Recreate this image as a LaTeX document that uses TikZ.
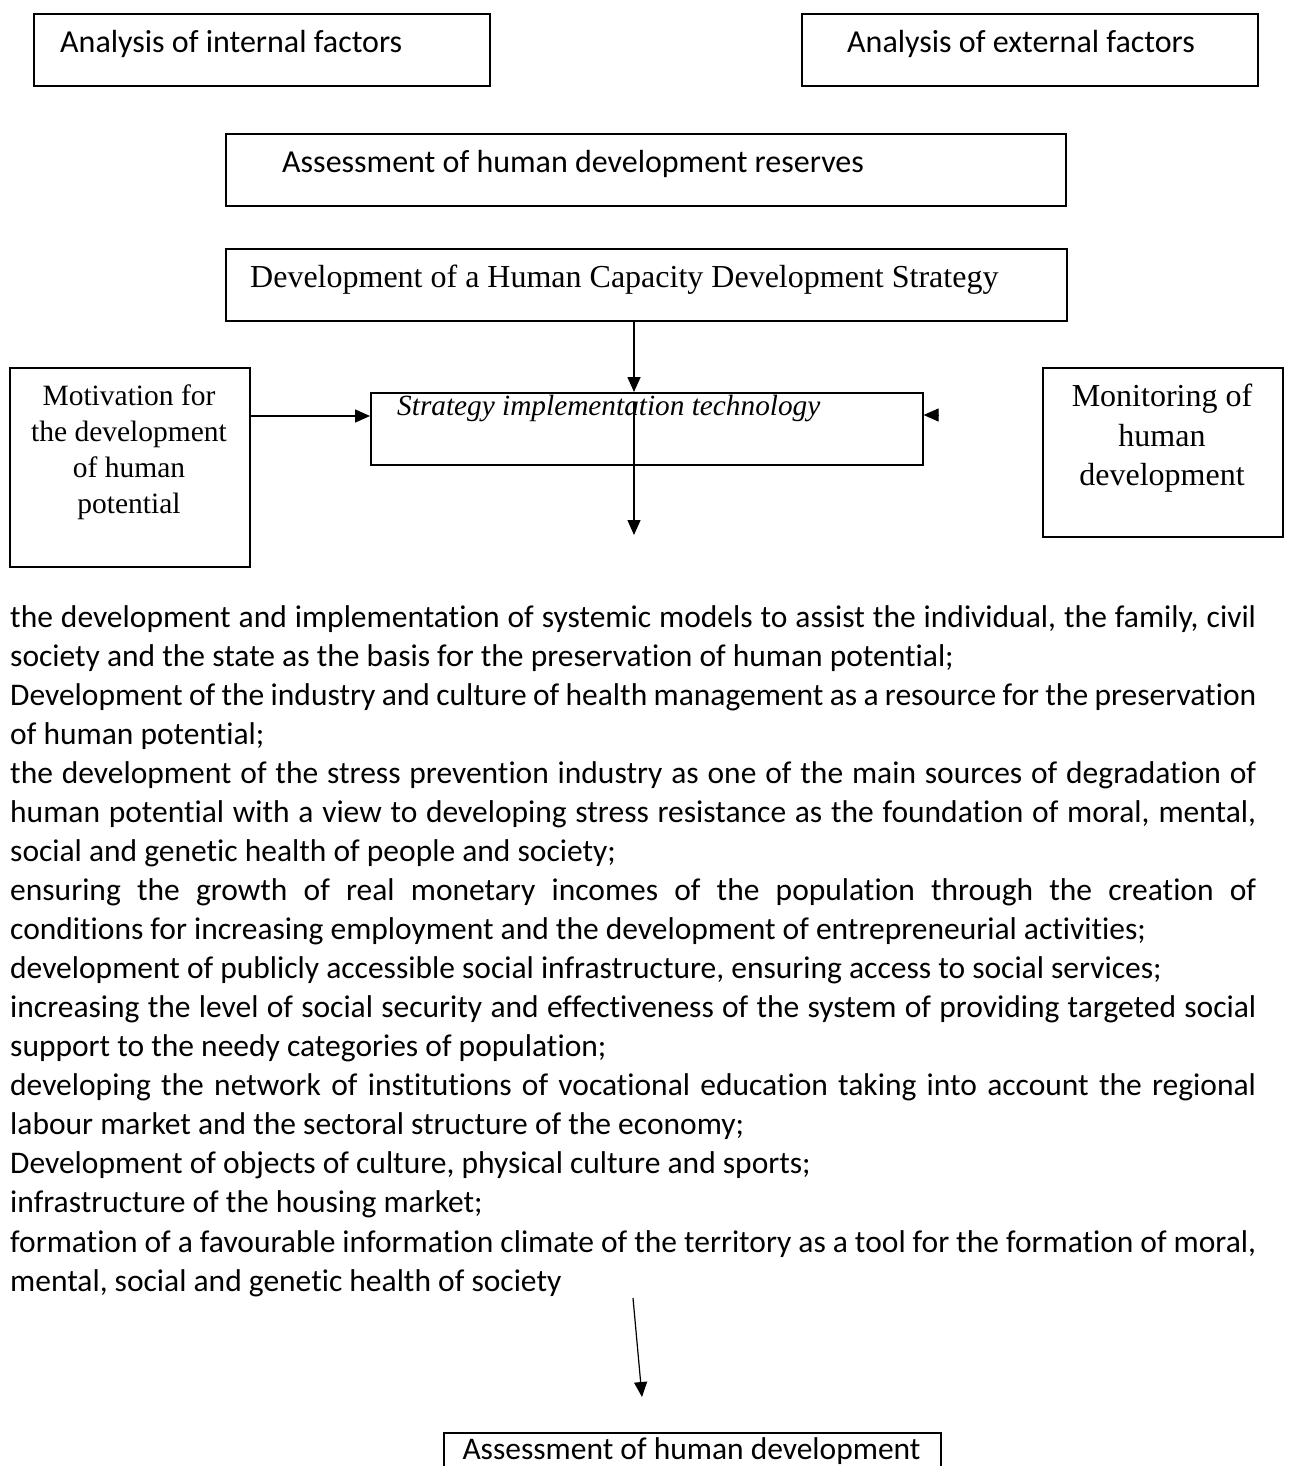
\documentclass[tikz,border=0pt]{standalone}
\usepackage{fontspec}
\setmainfont{Liberation Serif}
\newfontfamily\calfont[Ligatures=NoCommon]{Carlito}
\usetikzlibrary{arrows.meta}
\newcommand\jline[1]{\makebox[1246pt][s]{#1}}
\begin{document}
\begin{tikzpicture}[x=1pt,y=-1pt,
  box/.style={draw, line width=1.6pt, inner sep=0pt, anchor=north west},
  arr/.style={line width=1.6pt, -{Triangle[length=15pt,width=13pt]}},
  cal/.style={font=\calfont\fontsize{32}{39}\selectfont, inner sep=0pt, anchor=base west},
  tms/.style={font=\fontsize{32}{39}\selectfont, inner sep=0pt, anchor=base west},
  txt/.style={font=\calfont\fontsize{31.5}{39}\selectfont, inner sep=0pt, anchor=base west}
]
\useasboundingbox (0,0) rectangle (1289,1466);
\clip (0,0) rectangle (1289,1466);
\fill[white] (0,0) rectangle (1289,1466);

% top boxes
\node[box, minimum width=456pt, minimum height=72pt] (int) at (33,13) {};
\node[cal] (intT) at (60,53) {Analysis of internal factors};
\node[box, minimum width=456pt, minimum height=72pt] (ext) at (801,13) {};
\node[cal] (extT) at (847,53) {Analysis of external factors};

\node[box, minimum width=840pt, minimum height=72pt] (res) at (225,133) {};
\node[cal] (resT) at (282,173) {Assessment of human development reserves};

\node[box, minimum width=841pt, minimum height=72pt] (dev) at (225,248) {};
\node[tms] (devT) at (250,287) {Development of a Human Capacity Development Strategy};

% strategy box
\node[box, minimum width=552pt, minimum height=72pt] (strat) at (370,392) {};
\node[font=\itshape\fontsize{29.3}{36}\selectfont, inner sep=0pt, anchor=base west] (stratT) at (397,415) {Strategy implementation technology};

% side boxes
\node[box, minimum width=240pt, minimum height=199pt] (mot) at (9,367) {};
\node[font=\fontsize{29.5}{36}\selectfont, inner sep=0pt, align=center, anchor=north] (motT) at (129,385)
  {Motivation for\\the development\\of human\\potential};
\node[box, minimum width=240pt, minimum height=169pt] (mon) at (1042,367) {};
\node[font=\fontsize{32}{39.5}\selectfont, inner sep=0pt, align=center, anchor=north] (monT) at (1162,384)
  {Monitoring of\\human\\development};

% connectors
\coordinate (ax) at (634,0);
\draw[arr] (ax |- dev.south) -- (ax |- strat.north);
\coordinate (d1) at (634,402);
\coordinate (d2) at (634,535);
\draw[line width=1.2pt, -{Triangle[length=15pt,width=13pt]}] (d1) -- (d2);
\draw[arr] (mot.east |- 0,416) -- (strat.west |- 0,416);
\coordinate (m1) at (938,415);
\draw[line width=1pt, -{Triangle[length=15pt,width=13pt]}] (m1) -- (strat.east |- 0,415);

% list text
\node[txt] (l1) at (10,627.0) {\jline{the development and implementation of systemic models to assist the individual, the family, civil}};
\node[txt] (l2) at (10,666.1) {society and the state as the basis for the preservation of human potential;};
\node[txt] (l3) at (10,705.1) {\jline{Development of the industry and culture of health management as a resource for the preservation}};
\node[txt] (l4) at (10,744.2) {of human potential;};
\node[txt] (l5) at (10,783.2) {\jline{the development of the stress prevention industry as one of the main sources of degradation of}};
\node[txt] (l6) at (10,822.3) {\jline{human potential with a view to developing stress resistance as the foundation of moral, mental,}};
\node[txt] (l7) at (10,861.4) {social and genetic health of people and society;};
\node[txt] (l8) at (10,900.4) {\jline{ensuring the growth of real monetary incomes of the population through the creation of}};
\node[txt] (l9) at (10,939.5) {conditions for increasing employment and the development of entrepreneurial activities;};
\node[txt] (l10) at (10,978.5) {development of publicly accessible social infrastructure, ensuring access to social services;};
\node[txt] (l11) at (10,1017.6) {\jline{increasing the level of social security and effectiveness of the system of providing targeted social}};
\node[txt] (l12) at (10,1056.7) {support to the needy categories of population;};
\node[txt] (l13) at (10,1095.7) {\jline{developing the network of institutions of vocational education taking into account the regional}};
\node[txt] (l14) at (10,1134.8) {labour market and the sectoral structure of the economy;};
\node[txt] (l15) at (10,1173.8) {Development of objects of culture, physical culture and sports;};
\node[txt] (l16) at (10,1212.9) {infrastructure of the housing market;};
\node[txt] (l17) at (10,1252.0) {\jline{formation of a favourable information climate of the territory as a tool for the formation of moral,}};
\node[txt] (l18) at (10,1291.0) {mental, social and genetic health of society};

% bottom
\coordinate (s1) at (633,1298);
\coordinate (s2) at (642,1397);
\draw[line width=1.2pt, -{Triangle[length=15pt,width=13pt]}] (s1) -- (s2);
\node[box, minimum width=497pt, minimum height=80pt] (fin) at (443,1432) {};
\node[font=\calfont\fontsize{31.5}{39}\selectfont, inner sep=0pt, anchor=base] (finT) at (691.5,1459) {Assessment of human development};
\end{tikzpicture}
\end{document}
